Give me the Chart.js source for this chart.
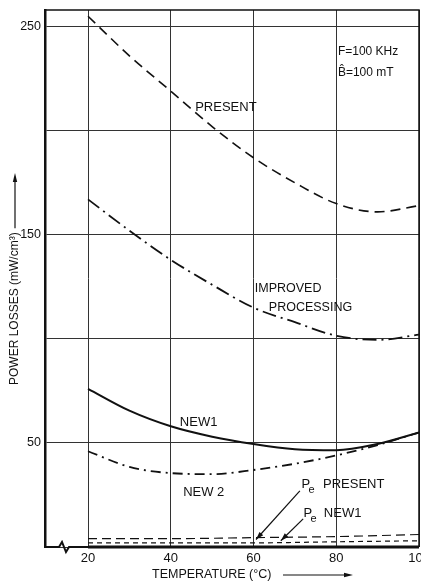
<!DOCTYPE html>
<html>
<head>
<meta charset="utf-8">
<script src="https://cdn.jsdelivr.net/npm/chart.js@4.4.1/dist/chart.umd.min.js"></script>
<style>
  html, body { margin: 0; padding: 0; background: #fff; }
  #wrap { width: 421px; height: 587px; }
</style>
</head>
<body>
<div id="wrap"><canvas id="chart" width="421" height="587"></canvas></div>
<script>
// Power losses vs temperature (F = 100 kHz, B = 100 mT)

const temps = [20, 30, 40, 50, 60, 70, 80, 90, 100];
const present = [255, 236, 219, 202, 187, 175, 165, 161, 164];
const improved = [167, 152, 138, 126, 115, 108, 101.5, 99.5, 102];
const new1 = [76, 65.5, 58, 53, 49.5, 47, 46.5, 49.5, 55];
const new2 = [46, 38.5, 35.5, 35, 37, 40, 44, 49, 55];

// eddy current part, hugging the bottom axis
const peTemps = [20, 40, 60, 80, 100];
const pePresent = [4, 4, 4.5, 5, 6];
const peNew1 = [2, 2, 2, 2.5, 3];

const xTicks = [20, 40, 60, 80, 100];
const yTicks = [0, 50, 100, 150, 200, 250];
const yLabelled = [50, 150, 250];

const FONT = "'Liberation Sans', Arial, sans-serif";
const INK = '#111';

// text notes, placed in data units
const notes = [
  { text: 'PRESENT', x: 45.9, y: 211, size: 13 },
  { text: 'F=100 KHz', x: 80.4, y: 238, size: 12 },
  { text: 'B\u0302=100 mT', x: 80.4, y: 228, size: 12 },
  { text: 'IMPROVED', x: 60.3, y: 124, size: 12.5 },
  { text: 'PROCESSING', x: 63.7, y: 115, size: 12.5 },
  { text: 'NEW1', x: 42.2, y: 60, size: 13 },
  { text: 'NEW 2', x: 43, y: 26, size: 13 },
  { text: 'PRESENT', x: 76.8, y: 30, size: 13 },
  { text: 'NEW1', x: 77, y: 16, size: 13 }
];
const peMarks = [{ x: 71.6, y: 30 }, { x: 72.1, y: 16 }];
const arrows = [
  { from: [71.2, 27], to: [60.6, 3.6] },
  { from: [72, 13.5], to: [66.6, 3] }
];

const toPoints = (xs, ys) => xs.map((x, i) => ({ x: x, y: ys[i] }));

function series(label, xs, ys, width, dash) {
  return {
    label: label,
    data: toPoints(xs, ys),
    borderColor: INK,
    borderWidth: width,
    borderDash: dash,
    pointRadius: 0,
    fill: false,
    cubicInterpolationMode: 'monotone'
  };
}

function arrowHead(ctx, x0, y0, x1, y1, len, half) {
  const ang = Math.atan2(y1 - y0, x1 - x0);
  ctx.beginPath();
  ctx.moveTo(x1, y1);
  ctx.lineTo(x1 - len * Math.cos(ang) + half * Math.sin(ang), y1 - len * Math.sin(ang) - half * Math.cos(ang));
  ctx.lineTo(x1 - len * Math.cos(ang) - half * Math.sin(ang), y1 - len * Math.sin(ang) + half * Math.cos(ang));
  ctx.closePath();
  ctx.fill();
}

const decorations = {
  id: 'decorations',
  afterDraw(chart) {
    const { ctx, chartArea: a, scales: { x, y } } = chart;
    ctx.save();
    ctx.strokeStyle = INK;
    ctx.fillStyle = INK;

    // top and right frame
    ctx.lineWidth = 1.5;
    ctx.beginPath();
    ctx.moveTo(a.left, a.top);
    ctx.lineTo(a.right, a.top);
    ctx.lineTo(a.right, a.bottom);
    ctx.stroke();

    // bottom axis with the break mark
    const b = a.bottom;
    const x20 = x.getPixelForValue(20);
    ctx.lineWidth = 2;
    ctx.beginPath();
    ctx.moveTo(a.left, b);
    ctx.lineTo(a.left + 14, b);
    ctx.lineTo(a.left + 17, b - 5);
    ctx.lineTo(a.left + 21, b + 5);
    ctx.lineTo(a.left + 24, b);
    ctx.lineTo(x20, b);
    ctx.stroke();
    ctx.lineWidth = 3;
    ctx.beginPath();
    ctx.moveTo(x20, b);
    ctx.lineTo(a.right, b);
    ctx.stroke();

    // notes
    ctx.textBaseline = 'middle';
    ctx.textAlign = 'left';
    notes.forEach(n => {
      ctx.font = n.size + 'px ' + FONT;
      ctx.fillText(n.text, x.getPixelForValue(n.x), y.getPixelForValue(n.y));
    });
    peMarks.forEach(p => {
      const px = x.getPixelForValue(p.x), py = y.getPixelForValue(p.y);
      ctx.font = '13px ' + FONT;
      ctx.fillText('P', px, py);
      ctx.font = '11px ' + FONT;
      ctx.fillText('e', px + 7, py + 5);
    });

    // arrows from the Pe notes down to their curves
    ctx.lineWidth = 1.2;
    arrows.forEach(r => {
      const x0 = x.getPixelForValue(r.from[0]), y0 = y.getPixelForValue(r.from[1]);
      const x1 = x.getPixelForValue(r.to[0]), y1 = y.getPixelForValue(r.to[1]);
      ctx.beginPath();
      ctx.moveTo(x0, y0);
      ctx.lineTo(x1, y1);
      ctx.stroke();
      arrowHead(ctx, x0, y0, x1, y1, 8, 2.5);
    });

    // axis titles
    ctx.font = '12.5px ' + FONT;
    ctx.textAlign = 'left';
    ctx.fillText('TEMPERATURE (\u00B0C)', 152, 575);
    ctx.lineWidth = 1.2;
    ctx.beginPath();
    ctx.moveTo(283, 575);
    ctx.lineTo(345, 575);
    ctx.stroke();
    arrowHead(ctx, 283, 575, 353, 575, 9, 2.2);

    ctx.font = '12px ' + FONT;
    ctx.save();
    ctx.translate(15, 385);
    ctx.rotate(-Math.PI / 2);
    const title = 'POWER LOSSES (mW/cm\u00B3)';
    ctx.fillText(title, 0, 0);
    const w = ctx.measureText(title).width;
    ctx.beginPath();
    ctx.moveTo(w + 4, 0);
    ctx.lineTo(385 - 182, 0);
    ctx.stroke();
    arrowHead(ctx, w + 4, 0, 385 - 173, 0, 9, 2.2);
    ctx.restore();

    ctx.restore();
  }
};

new Chart(document.getElementById('chart'), {
  type: 'line',
  data: {
    datasets: [
      series('PRESENT', temps, present, 1.6, [10, 6]),
      series('IMPROVED PROCESSING', temps, improved, 1.8, [14, 5, 2, 5]),
      series('NEW1', temps, new1, 2, []),
      series('NEW 2', temps, new2, 1.8, [10, 5, 2, 5]),
      series('Pe PRESENT', peTemps, pePresent, 1.2, [9, 5]),
      series('Pe NEW1', peTemps, peNew1, 1.2, [5, 4])
    ]
  },
  options: {
    responsive: false,
    animation: false,
    devicePixelRatio: 1,
    layout: { padding: { top: 10, right: 2, left: 0, bottom: 0 } },
    plugins: { legend: { display: false }, tooltip: { enabled: false } },
    scales: {
      x: {
        type: 'linear',
        min: 9.6,
        max: 100,
        afterBuildTicks: s => { s.ticks = xTicks.map(v => ({ value: v })); },
        afterFit: s => { s.height = 40; s.paddingLeft = 0; s.paddingRight = 0; },
        grid: { color: '#333', lineWidth: 1, drawTicks: false },
        border: { display: false },
        ticks: { color: INK, font: { family: FONT, size: 13 }, padding: 4, maxRotation: 0, autoSkip: false }
      },
      y: {
        type: 'linear',
        min: 0,
        max: 258,
        afterBuildTicks: s => { s.ticks = yTicks.map(v => ({ value: v })); },
        afterFit: s => { s.width = 45; s.paddingTop = 0; s.paddingBottom = 0; },
        grid: { color: '#333', lineWidth: 1, drawTicks: false },
        border: { display: true, color: INK, width: 2.5 },
        ticks: {
          color: INK,
          font: { family: FONT, size: 12.5 },
          padding: 4,
          autoSkip: false,
          callback: v => yLabelled.includes(v) ? String(v) : ''
        }
      }
    }
  },
  plugins: [decorations]
});
</script>
</body>
</html>
